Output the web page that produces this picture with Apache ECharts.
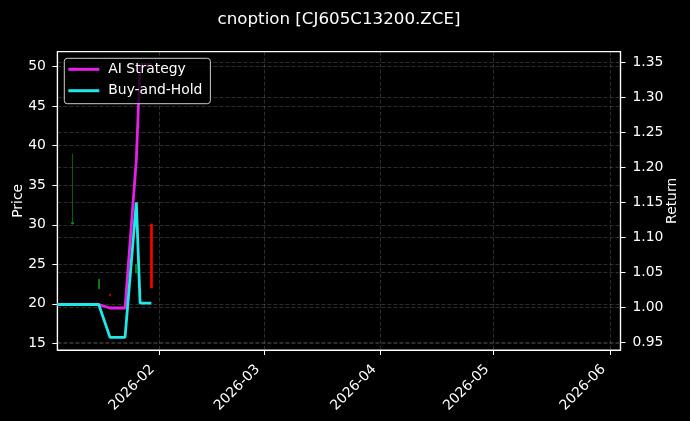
<!DOCTYPE html>
<html>
<head>
<meta charset="utf-8">
<script src="https://cdn.jsdelivr.net/npm/echarts@6/dist/echarts.min.js"></script>
<style>
html,body{margin:0;padding:0;background:#000;}
#c{width:690px;height:421px;}
</style>
</head>
<body>
<div id="c"></div>
<script>
// ---- data ----
const titleText = 'cnoption [CJ605C13200.ZCE]';
const lineDates = ['2026-01-05','2026-01-06','2026-01-07','2026-01-08','2026-01-09',
  '2026-01-12','2026-01-13','2026-01-14','2026-01-15','2026-01-16',
  '2026-01-19','2026-01-20','2026-01-21','2026-01-22','2026-01-23',
  '2026-01-26','2026-01-27','2026-01-28','2026-01-29','2026-01-30'];
const aiStrategy = [1.004,1.004,1.004,1.004,1.004,1.004,1.004,1.004,1.004,1.004,
  0.999,0.999,0.999,0.999,0.999,1.210,1.347,1.347,1.347,1.347];
const buyHold = [1.004,1.004,1.004,1.004,1.004,1.004,1.004,1.004,1.004,1.004,
  0.957,0.957,0.957,0.957,0.957,1.150,1.006,1.006,1.006,1.006];
const candleDates = ['2026-01-09','2026-01-16','2026-01-19','2026-01-26','2026-01-30'];
const candleOpen  = [30.1, 21.9, 21.2, 23.9, 30.1];
const candleClose = [30.3, 23.1, 21.05, 25.0, 22.0];
const candleLow   = [30.1, 21.9, 21.05, 23.9, 22.0];
const candleHigh  = [39.0, 23.1, 21.2, 25.0, 30.1];
const priceTicks = [15,20,25,30,35,40,45,50];
const returnTicks = [0.95,1.00,1.05,1.10,1.15,1.20,1.25,1.30,1.35];
const seriesNames = ['AI Strategy','Buy-and-Hold'];

// ---- build ----
function ts(s){ const p = s.split('-').map(Number); return new Date(p[0], p[1]-1, p[2]).getTime(); }
const xMin = ts('2026-01-05');
const xMax = ts('2026-06-03') + 20*3600*1000;
const font = 'DejaVu Sans';
const gridLine = {show:true, lineStyle:{color:'rgba(255,255,255,0.25)', type:[4,2], width:0.7}};

const candleData = candleDates.map((d,i)=>[ts(d), candleOpen[i], candleClose[i], candleLow[i], candleHigh[i]]);

const chart = echarts.init(document.getElementById('c'), null, {renderer:'canvas'});
chart.setOption({
  backgroundColor:'#000000',
  animation:false,
  textStyle:{fontFamily:font},
  title:{text:titleText, left:334, textAlign:'center', top:6,
    textStyle:{color:'#ffffff', fontSize:16.7, fontWeight:'normal', fontFamily:font}},
  legend:{
    data:[{name:seriesNames[0], icon:'rect'},{name:seriesNames[1], icon:'rect'}],
    orient:'vertical', left:64.3, top:58.3,
    padding:[3,8,5,4], itemGap:5.4, itemWidth:31, itemHeight:3,
    backgroundColor:'rgba(0,0,0,0.8)', borderColor:'#cccccc', borderWidth:1, borderRadius:3,
    textStyle:{color:'#ffffff', fontSize:13.9, fontFamily:font, lineHeight:16, padding:[0,0,0,4]}
  },
  grid:{left:57.4, right:69.5, top:51.7, bottom:71, show:true, outerBoundsMode:'none', containLabel:false,
    borderColor:'#ffffff', borderWidth:1.2, backgroundColor:'transparent'},
  xAxis:{
    type:'time', min:xMin, max:xMax, splitNumber:5,
    axisLine:{show:true, lineStyle:{color:'#ffffff', width:1.2}},
    axisTick:{show:true, length:5, lineStyle:{color:'#ffffff'}},
    minorTick:{show:false},
    axisLabel:{color:'#ffffff', fontSize:13.9, fontFamily:font, rotate:45, margin:8,
      padding:[4,11,0,0],
      showMinLabel:false, showMaxLabel:false, hideOverlap:false,
      formatter:function(v){ const d=new Date(v); return d.getFullYear()+'-'+String(d.getMonth()+1).padStart(2,'0'); }},
    splitLine:gridLine
  },
  yAxis:[
    {type:'value', position:'left', min:14.15, max:51.9, splitNumber:8,
     name:'Price', nameLocation:'middle', nameRotate:90, nameGap:32.5, nameMoveOverlap:false,
     nameTextStyle:{color:'#ffffff', fontSize:13.9, fontFamily:font},
     axisLine:{show:true, lineStyle:{color:'#ffffff', width:1.2}},
     axisTick:{show:true, length:5, lineStyle:{color:'#ffffff'}, customValues:priceTicks},
     axisLabel:{color:'#ffffff', fontSize:13.9, fontFamily:font, margin:11.5, customValues:priceTicks},
     splitLine:gridLine},
    {type:'value', position:'right', min:0.939, max:1.365, splitNumber:8,
     name:'Return', nameLocation:'middle', nameRotate:90, nameGap:45.3, nameMoveOverlap:false,
     nameTextStyle:{color:'#ffffff', fontSize:13.9, fontFamily:font},
     axisLine:{show:true, lineStyle:{color:'#ffffff', width:1.2}},
     axisTick:{show:true, length:5, lineStyle:{color:'#ffffff'}, customValues:returnTicks},
     axisLabel:{color:'#ffffff', fontSize:13.9, fontFamily:font, margin:12, customValues:returnTicks,
       formatter:function(v){ return Number(v).toFixed(2); }},
     splitLine:gridLine}
  ],
  series:[
    {type:'candlestick', name:'OHLC', yAxisIndex:0, barWidth:1.8,
     itemStyle:{color:'#119911', color0:'#ff0000', borderColor:'#119911', borderColor0:'#ff0000', borderWidth:0.6},
     data:candleData},
    {type:'line', name:seriesNames[0], yAxisIndex:1, showSymbol:false, symbol:'none',
     color:'#e620e6', lineStyle:{width:2.8, color:'#e620e6'},
     data:lineDates.map((d,i)=>[ts(d), aiStrategy[i]])},
    {type:'line', name:seriesNames[1], yAxisIndex:1, showSymbol:false, symbol:'none',
     color:'#1ee8e8', lineStyle:{width:2.8, color:'#1ee8e8'},
     data:lineDates.map((d,i)=>[ts(d), buyHold[i]])}
  ]
});
</script>
</body>
</html>
